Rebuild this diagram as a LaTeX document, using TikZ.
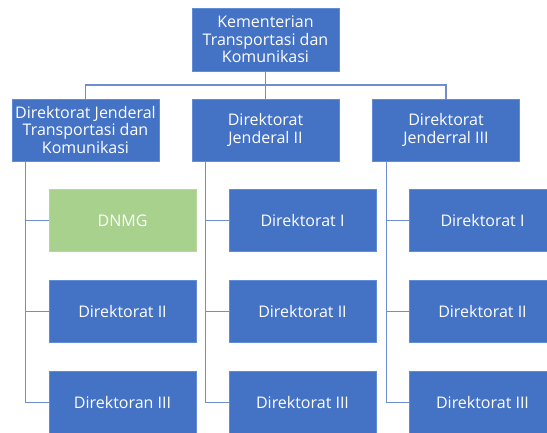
\documentclass[tikz,border=0pt]{standalone}
\usepackage{fontspec}
\setmainfont{Open Sans}
\definecolor{orgblue}{RGB}{68,114,196}
\definecolor{orgedge}{RGB}{98,140,214}
\definecolor{orggreen}{RGB}{169,209,142}
\definecolor{orgline}{RGB}{112,142,206}
\begin{document}
\begin{tikzpicture}[x=1pt, y=-1pt,
        unit/.style={draw=orgedge, fill=orgblue, text=white, line width=0.6pt,
            minimum width=147pt, minimum height=62pt, inner sep=0pt, align=center,
            font=\fontsize{16}{17.5}\selectfont},
        greenunit/.style={unit, fill=orggreen, draw=orggreen!85!white},
        link/.style={orgline, line width=1.3pt}]
    \useasboundingbox (0,0) rectangle (547,433);
    % puncak
    \node[unit, minimum height=63pt] (kem) at (265.5,39.5) {Kementerian\\Transportasi dan\\Komunikasi};
    % direktorat jenderal
    \node[unit] (dj1) at (85.5,130) {Direktorat Jenderal\\Transportasi dan\\Komunikasi};
    \node[unit] (dj2) at (265.5,130) {Direktorat\\Jenderal II};
    \node[unit] (dj3) at (446,130) {Direktorat\\Jenderral III};
    % direktorat
    \node[greenunit] (d11) at (122.5,220.5) {DNMG};
    \node[unit] (d12) at (122.5,311.5) {Direktorat II};
    \node[unit] (d13) at (122.5,402.5) {Direktoran III};
    \node[unit] (d21) at (302.5,220.5) {Direktorat I};
    \node[unit] (d22) at (302.5,311.5) {Direktorat II};
    \node[unit] (d23) at (302.5,402.5) {Direktorat III};
    \node[unit] (d31) at (482.5,220.5) {Direktorat I};
    \node[unit] (d32) at (482.5,311.5) {Direktorat II};
    \node[unit] (d33) at (482.5,402.5) {Direktorat III};
    % garis
    \coordinate (bus) at (265.5,85);
    \draw[link] (kem.south) -- (dj2.north);
    \draw[link] (dj1.north) |- (bus) -| (dj3.north);
    \foreach \j in {1,2,3}
        {
            \coordinate (v\j) at ([xshift=14pt]dj\j.south west);
            \foreach \k in {1,2,3} { \draw[link] (v\j) |- (d\j\k.west); }
        }
\end{tikzpicture}
\end{document}
